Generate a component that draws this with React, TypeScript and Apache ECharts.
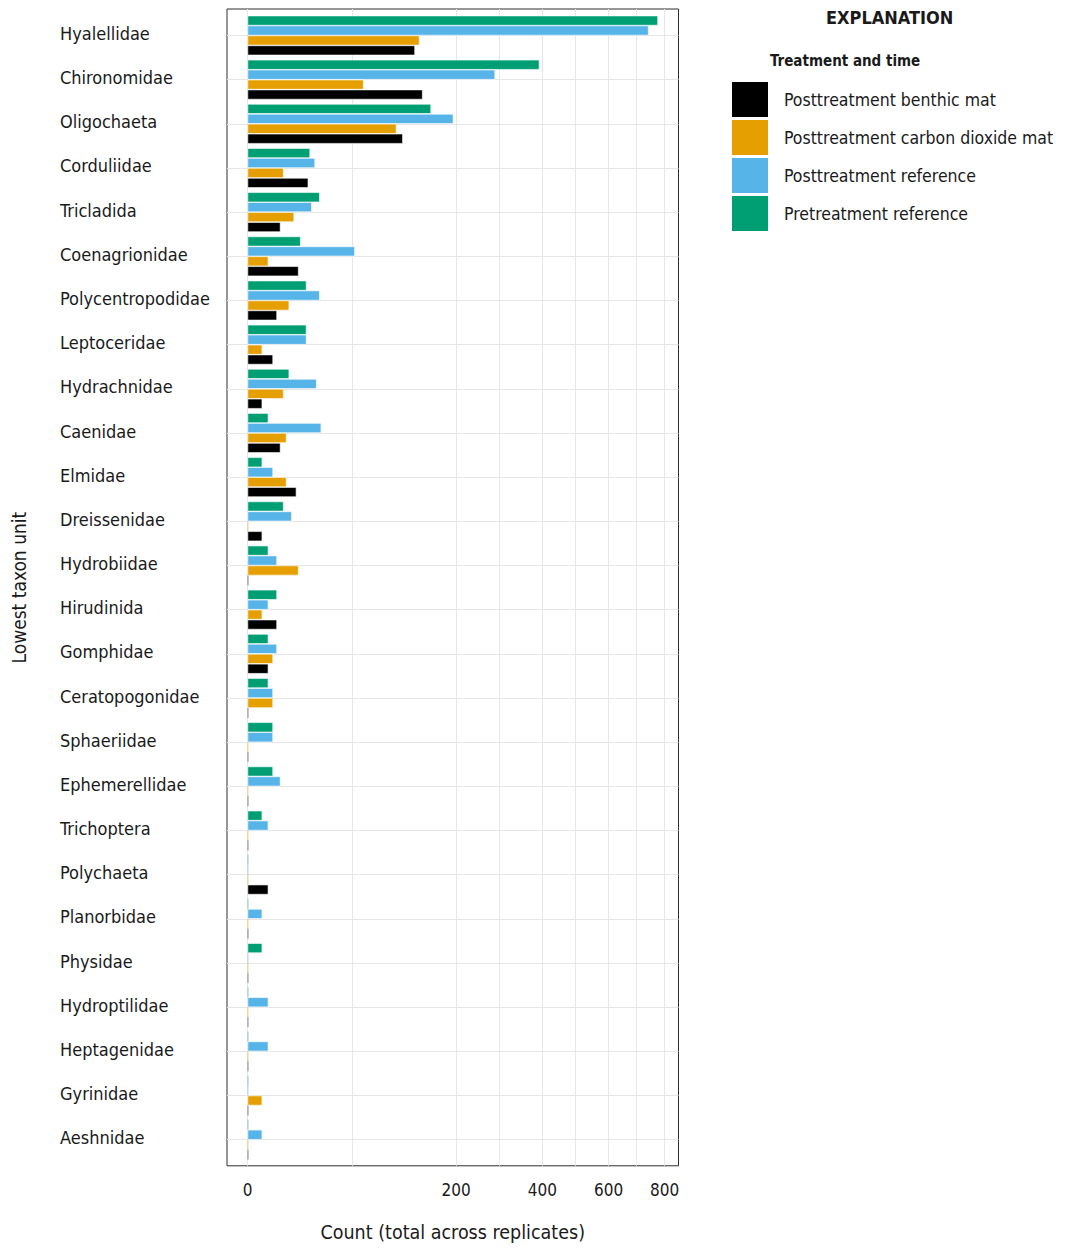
import React, { useEffect, useRef } from "react";
import * as echarts from "echarts";

// Taxa, listed top to bottom
const CATEGORIES = [
  "Hyalellidae",
  "Chironomidae",
  "Oligochaeta",
  "Corduliidae",
  "Tricladida",
  "Coenagrionidae",
  "Polycentropodidae",
  "Leptoceridae",
  "Hydrachnidae",
  "Caenidae",
  "Elmidae",
  "Dreissenidae",
  "Hydrobiidae",
  "Hirudinida",
  "Gomphidae",
  "Ceratopogonidae",
  "Sphaeriidae",
  "Ephemerellidae",
  "Trichoptera",
  "Polychaeta",
  "Planorbidae",
  "Physidae",
  "Hydroptilidae",
  "Heptagenidae",
  "Gyrinidae",
  "Aeshnidae",
];

// Counts, total across replicates
const PRETREATMENT_REFERENCE = [775, 392, 155, 18, 24, 13, 16, 16, 8, 2, 1, 6, 2, 4, 2, 2, 3, 3, 1, 0, 0, 1, 0, 0, 0, 0];
const POSTTREATMENT_REFERENCE = [740, 282, 195, 21, 19, 53, 24, 16, 22, 25, 3, 9, 4, 2, 4, 3, 3, 5, 2, 0, 1, 0, 2, 2, 0, 1];
const POSTTREATMENT_CO2_MAT = [136, 62, 102, 6, 10, 2, 8, 1, 6, 7, 7, 0, 12, 1, 3, 3, 0, 0, 0, 0, 0, 0, 0, 0, 1, 0];
const POSTTREATMENT_BENTHIC_MAT = [129, 141, 111, 17, 5, 12, 4, 3, 1, 5, 11, 1, 0, 4, 2, 0, 0, 0, 0, 2, 0, 0, 0, 0, 0, 0];

const COUNT_TICKS = [0, 200, 400, 600, 800];

const NAME_PRE_REF = "Pretreatment reference";
const NAME_POST_REF = "Posttreatment reference";
const NAME_POST_CO2 = "Posttreatment carbon dioxide mat";
const NAME_POST_BENTHIC = "Posttreatment benthic mat";

const WORD_FONT = "'DejaVu Sans Condensed', 'DejaVu Sans', sans-serif";
const INK = "#1a1a1a";
const FRAME = "#2e2e2e";
const GRID_LINE = "#e6e6e6";

// Square-root count scale: bars and ticks are placed at sqrt(count)
const sq = (n: number) => Math.sqrt(n);
const maxCount = Math.max(
  ...PRETREATMENT_REFERENCE,
  ...POSTTREATMENT_REFERENCE,
  ...POSTTREATMENT_CO2_MAT,
  ...POSTTREATMENT_BENTHIC_MAT
);
const pad = 0.05 * sq(maxCount);
const X_MIN = -pad;
const X_MAX = sq(maxCount) + pad;
const MAJOR = COUNT_TICKS.map(sq);
const MINOR = MAJOR.slice(1).map((v, i) => (v + MAJOR[i]) / 2);

function barSeries(name: string, values: number[], color: string) {
  return {
    type: "bar",
    name,
    xAxisIndex: 0,
    yAxisIndex: 0,
    barGap: "0%",
    barCategoryGap: "10%",
    barMinHeight: 1,
    z: 2,
    itemStyle: { color, borderColor: "#ffffff", borderWidth: 0.6 },
    emphasis: { disabled: true },
    data: values.map((v) =>
      v === 0 ? { value: 0, itemStyle: { opacity: 0.45, borderWidth: 0 } } : sq(v)
    ),
  };
}

function buildOption() {
  return {
    animation: false,
    backgroundColor: "#ffffff",
    title: [
      {
        text: "EXPLANATION",
        left: 826,
        top: 8.5,
        padding: 0,
        textStyle: { fontFamily: WORD_FONT, fontWeight: "bold", fontSize: 18, color: INK },
      },
      {
        text: "Treatment and time",
        left: 770,
        top: 53,
        padding: 0,
        textStyle: { fontFamily: WORD_FONT, fontWeight: "bold", fontSize: 15, color: INK },
      },
    ],
    legend: {
      orient: "vertical",
      left: 732,
      top: 82,
      padding: 0,
      itemWidth: 36,
      itemHeight: 35,
      itemGap: 3,
      icon: "rect",
      selectedMode: false,
      data: [NAME_POST_BENTHIC, NAME_POST_CO2, NAME_POST_REF, NAME_PRE_REF],
      itemStyle: { borderWidth: 0 },
      textStyle: {
        fontFamily: WORD_FONT,
        fontSize: 17.5,
        color: INK,
        padding: [0, 0, 0, 11],
      },
    },
    grid: [
      {
        left: 227,
        right: 393.5,
        top: 13.4,
        height: 1148.4,
        outerBoundsMode: "none",
        containLabel: false,
      },
      {
        left: 227,
        right: 393.5,
        top: 9,
        height: 1156.8,
        show: true,
        borderColor: FRAME,
        borderWidth: 1,
        backgroundColor: "transparent",
        outerBoundsMode: "none",
        containLabel: false,
      },
    ],
    xAxis: [
      { gridIndex: 0, type: "value", min: X_MIN, max: X_MAX, show: false },
      {
        gridIndex: 1,
        type: "value",
        min: X_MIN,
        max: X_MAX,
        position: "bottom",
        axisLine: { show: false },
        axisTick: {
          show: true,
          inside: true,
          length: 10,
          customValues: MAJOR,
          lineStyle: { color: FRAME, width: 1 },
        },
        axisLabel: {
          show: true,
          customValues: MAJOR,
          formatter: (v: number) => String(Math.round(v * v)),
          margin: 16,
          fontFamily: WORD_FONT,
          fontSize: 17,
          color: INK,
        },
        splitLine: { show: false },
        name: "Count (total across replicates)",
        nameLocation: "middle",
        nameGap: 57,
        nameMoveOverlap: false,
        nameTextStyle: { fontFamily: WORD_FONT, fontSize: 19.5, color: INK },
      },
      {
        gridIndex: 1,
        type: "value",
        min: X_MIN,
        max: X_MAX,
        position: "top",
        axisLine: { show: false },
        axisTick: {
          show: true,
          inside: true,
          length: 10,
          customValues: MAJOR,
          lineStyle: { color: FRAME, width: 1 },
        },
        axisLabel: { show: false },
        splitLine: { show: false },
      },
    ],
    yAxis: [
      {
        gridIndex: 0,
        type: "category",
        data: CATEGORIES,
        inverse: true,
        axisLine: { show: false },
        axisTick: {
          show: true,
          inside: true,
          length: 10,
          interval: 0,
          alignWithLabel: true,
          lineStyle: { color: FRAME, width: 1 },
        },
        axisLabel: {
          interval: 0,
          align: "left",
          verticalAlign: "bottom",
          lineHeight: 4,
          margin: 167,
          fontFamily: WORD_FONT,
          fontSize: 18,
          color: INK,
        },
        splitLine: { show: false },
        name: "Lowest taxon unit",
        nameLocation: "middle",
        nameRotate: 90,
        nameGap: 199,
        nameMoveOverlap: false,
        nameTextStyle: { fontFamily: WORD_FONT, fontSize: 19, color: INK },
      },
      {
        gridIndex: 0,
        type: "category",
        data: CATEGORIES,
        inverse: true,
        position: "right",
        axisLine: { show: false },
        axisTick: {
          show: true,
          inside: true,
          length: 10,
          interval: 0,
          alignWithLabel: true,
          lineStyle: { color: FRAME, width: 1 },
        },
        axisLabel: { show: false },
        splitLine: { show: false },
      },
      { gridIndex: 1, type: "value", min: 0, max: 1, show: false },
    ],
    series: [
      // horizontal grid lines at each taxon
      {
        type: "line",
        xAxisIndex: 0,
        yAxisIndex: 0,
        data: [],
        silent: true,
        z: 0,
        markLine: {
          silent: true,
          z: 1,
          symbol: ["none", "none"],
          label: { show: false },
          emphasis: { disabled: true },
          lineStyle: { type: "solid", color: GRID_LINE, width: 1 },
          data: CATEGORIES.map((_, i) => ({ yAxis: i })),
        },
      },
      // vertical grid lines at major and minor count breaks
      {
        type: "line",
        xAxisIndex: 1,
        yAxisIndex: 2,
        data: [],
        silent: true,
        z: 0,
        markLine: {
          silent: true,
          z: 1,
          symbol: ["none", "none"],
          label: { show: false },
          emphasis: { disabled: true },
          lineStyle: { type: "solid", color: GRID_LINE, width: 1 },
          data: [...MAJOR, ...MINOR].map((v) => ({ xAxis: v })),
        },
      },
      barSeries(NAME_PRE_REF, PRETREATMENT_REFERENCE, "#009E73"),
      barSeries(NAME_POST_REF, POSTTREATMENT_REFERENCE, "#56B4E9"),
      barSeries(NAME_POST_CO2, POSTTREATMENT_CO2_MAT, "#E69F00"),
      barSeries(NAME_POST_BENTHIC, POSTTREATMENT_BENTHIC_MAT, "#000000"),
    ],
  };
}

export default function App() {
  const ref = useRef<HTMLDivElement>(null);

  useEffect(() => {
    if (!ref.current) return;
    const chart = echarts.init(ref.current, null, { renderer: "svg" });
    chart.setOption(buildOption() as any);
    return () => chart.dispose();
  }, []);

  return (
    <div
      ref={ref}
      style={{ position: "absolute", left: 0, top: 0, width: 1072, height: 1249 }}
    />
  );
}
